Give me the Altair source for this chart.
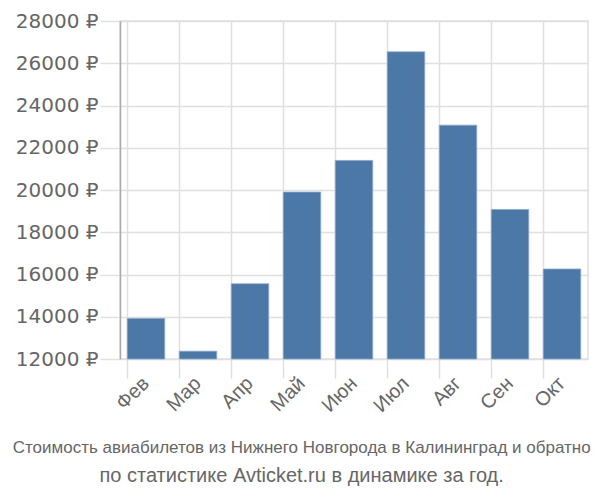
import altair as alt
import pandas as pd

months = ["Фев", "Мар", "Апр", "Май", "Июн", "Июл", "Авг", "Сен", "Окт"]
prices = [13920, 12370, 15560, 19900, 21400, 26540, 23070, 19080, 16260]
base = [12000] * len(months)
y_ticks = [12000, 14000, 16000, 18000, 20000, 22000, 24000, 26000, 28000]
title_line1 = "Стоимость авиабилетов из Нижнего Новгорода в Калининград и обратно"
title_line2 = "по статистике Avticket.ru в динамике за год."

df = pd.DataFrame({"month": months, "price": prices, "base": base})

grid_color = "#e0e0e0"
text_color = "#666666"

chart = alt.Chart(df).mark_bar(
    color="#4c78a8", stroke="#8aa6c8", strokeWidth=0.8
).encode(
    x=alt.X(
        "month:N",
        sort=months,
        title=None,
        scale=alt.Scale(paddingInner=0.28, paddingOuter=0.14),
        axis=alt.Axis(
            bandPosition=0,
            labelAngle=-45,
            labelAlign="right",
            labelBaseline="middle",
            labelFontSize=20,
            labelColor=text_color,
            labelFont="Liberation Sans",
            labelPadding=2,
            tickSize=19,
            tickColor=grid_color,
            tickWidth=1.5,
            grid=True,
            gridColor=grid_color,
            gridWidth=1.5,
            domain=False,
        ),
    ),
    y=alt.Y(
        "price:Q",
        title=None,
        scale=alt.Scale(domain=[12000, 28000], nice=False, zero=False),
        axis=alt.Axis(
            values=y_ticks,
            labelExpr="format(datum.value, 'd') + ' ₽'",
            labelFontSize=20,
            labelColor=text_color,
            labelFont="DejaVu Sans",
            labelPadding=2,
            tickSize=20,
            tickColor=grid_color,
            tickWidth=1.5,
            grid=True,
            gridColor=grid_color,
            gridWidth=1.5,
            domain=True,
            domainColor="#aaaaaa",
            domainWidth=1.5,
        ),
    ),
    y2="base:Q",
).properties(
    width=468,
    height=338,
    padding={"left": 4, "top": 3, "right": 0, "bottom": 0},
    title=alt.TitleParams(
        text=title_line1,
        subtitle=title_line2,
        orient="bottom",
        anchor="middle",
        frame="bounds",
        font="Liberation Sans",
        fontSize=17,
        fontWeight="normal",
        color=text_color,
        subtitleFont="Liberation Sans",
        subtitleFontSize=20,
        subtitleColor=text_color,
        subtitlePadding=9,
        offset=24,
    ),
).configure_view(stroke=grid_color, strokeWidth=1.5)

chart.save("out.html", embed_options={"renderer": "svg", "actions": False})
